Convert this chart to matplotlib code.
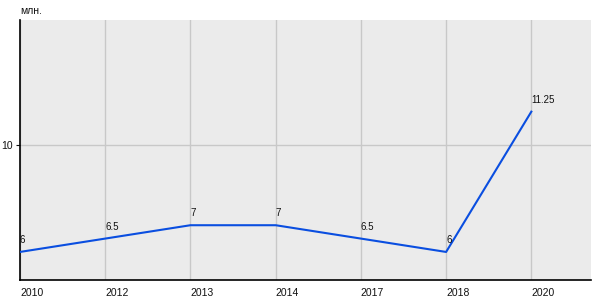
import matplotlib
matplotlib.use("Agg")
import matplotlib.pyplot as plt

years = ["2010", "2012", "2013", "2014", "2017", "2018", "2020"]
values = [6, 6.5, 7, 7, 6.5, 6, 11.25]
labels = ["6", "6.5", "7", "7", "6.5", "6", "11.25"]

fig = plt.figure(figsize=(6, 3), dpi=100)
ax = fig.add_axes([20 / 600, 20 / 300, 571 / 600, 260 / 300])
ax.set_facecolor("#ebebeb")

x = list(range(len(years)))
ax.plot(x, values, color="#0a4ee0", linewidth=1.5, zorder=3)

for xi, v, lab in zip(x, values, labels):
    ax.annotate(lab, (xi, v), xytext=(0, 5), textcoords="offset points",
                ha="left", va="bottom", fontsize=7, color="#111111",
                family="Liberation Sans")

ax.set_xlim(0, 6.7)
ax.set_ylim(4.95, 14.68)
ax.set_xticks(x)
ax.set_xticklabels(years, ha="left")
ax.set_yticks([10])
ax.grid(True, color="#c8c8c8", linewidth=1)
ax.set_axisbelow(True)

for s in ["top", "right"]:
    ax.spines[s].set_visible(False)
ax.spines["left"].set_linewidth(1.2)
ax.spines["bottom"].set_linewidth(1.2)
ax.tick_params(axis="x", length=0, pad=6, labelsize=7.5, colors="#111111")
ax.tick_params(axis="y", length=3, pad=2, labelsize=7.5, colors="#111111")
for t in ax.get_xticklabels() + ax.get_yticklabels():
    t.set_family("Liberation Sans")

fig.text(20 / 600, 1 - 16 / 300, "млн.", fontsize=7.5, family="Liberation Sans",
         ha="left", va="bottom", color="#111111")

fig.savefig("out.png", dpi=100)
plt.close(fig)
